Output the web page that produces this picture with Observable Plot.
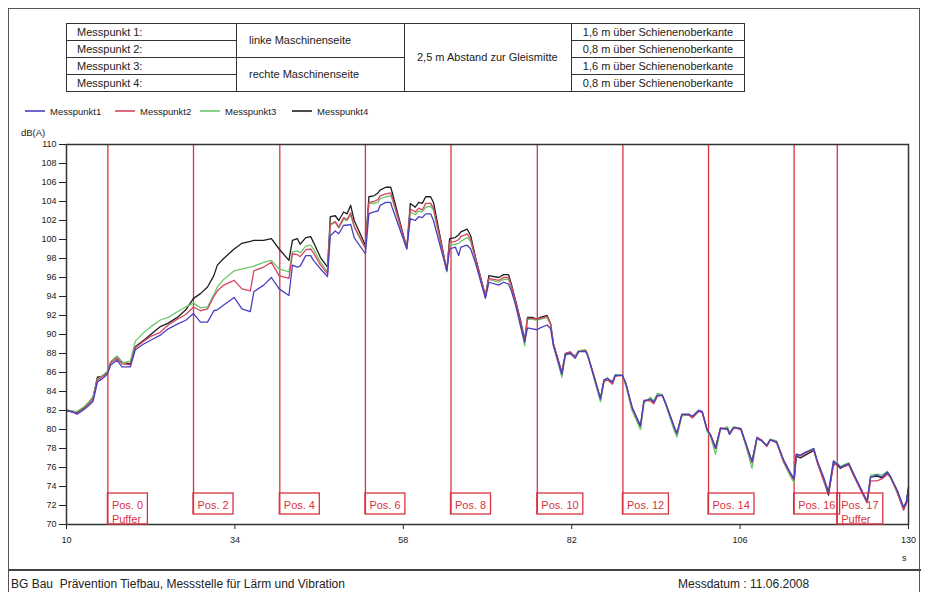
<!DOCTYPE html>
<html><head><meta charset="utf-8">
<script src="https://cdn.jsdelivr.net/npm/d3@7"></script>
<script src="https://cdn.jsdelivr.net/npm/@observablehq/plot@0.6"></script>
<style>
html,body{margin:0;padding:0;background:#fff;}
body{font-family:"Liberation Sans",Arial,sans-serif;color:#222;}
#wrap{position:relative;width:927px;height:592px;overflow:hidden;}
#chart{position:absolute;left:0;top:0;}
.abs{position:absolute;white-space:nowrap;}
table.info{position:absolute;left:66px;top:23px;border-collapse:collapse;font-size:11px;table-layout:fixed;width:678px;color:#222;}
table.info td{border:1.5px solid #333;height:16px;padding:0 0 0 10px;white-space:nowrap;line-height:15px;vertical-align:middle;}
table.info td.m{padding-left:12px;}
table.info td.c{text-align:center;padding:0;}
.leg{position:absolute;top:106px;font-size:9.5px;line-height:12px;}
.leg svg{vertical-align:middle;margin-right:5px;position:relative;top:-1px;}
</style>
</head><body>
<div id="wrap">
  <div id="chart"></div>
  <div class="abs" style="left:8px;top:8px;width:912px;height:600px;border:1.5px solid #555;box-sizing:border-box;"></div>
  <div class="abs" style="left:8px;top:569px;width:913px;height:0;border-top:2px solid #444;"></div>
  <table class="info">
    <colgroup><col style="width:170px"><col style="width:168px"><col style="width:167px"><col style="width:173px"></colgroup>
    <tr><td>Messpunkt 1:</td><td class="m" rowspan="2">linke Maschinenseite</td><td class="m" rowspan="4">2,5 m Abstand zur Gleismitte</td><td class="c">1,6 m über Schienenoberkante</td></tr>
    <tr><td>Messpunkt 2:</td><td class="c">0,8 m über Schienenoberkante</td></tr>
    <tr><td>Messpunkt 3:</td><td class="m" rowspan="2">rechte Maschinenseite</td><td class="c">1,6 m über Schienenoberkante</td></tr>
    <tr><td>Messpunkt 4:</td><td class="c">0,8 m über Schienenoberkante</td></tr>
  </table>
  <div id="legend"></div>
  <div class="abs" style="left:21px;top:127px;font-size:9.5px;line-height:12px;">dB(A)</div>
  <div class="abs" style="left:902px;top:552px;font-size:9px;line-height:12px;">s</div>
  <div class="abs" style="left:11px;top:577px;font-size:12px;line-height:14px;">BG Bau&nbsp; Prävention Tiefbau, Messstelle für Lärm und Vibration</div>
  <div class="abs" style="left:678px;top:577px;font-size:12px;line-height:14px;">Messdatum : 11.06.2008</div>
</div>
<script>
// ---- data ----
const time = [10, 11, 11.5, 12.5, 13.3, 13.8, 14.4, 15.0, 15.8, 16.3, 17.2, 17.9, 19.1, 19.8, 21.0, 22.0, 23.3, 24.5, 25.8, 27.0, 28.1, 29.1, 30.1, 31.0, 31.5, 32.4, 33.9, 35.0, 36.2, 36.7, 38.1, 39.2, 40.3, 41.7, 42.2,
  42.9, 43.3, 44.1, 44.8, 45.2, 46.2, 47.2, 47.6, 48.3, 48.8, 49.5, 50.0, 50.5, 51.0, 52.6, 53.1, 53.8, 54.4, 54.7, 55.5, 56.2, 56.4, 58.5, 59.0, 59.7, 60.2, 60.7, 61.2, 61.9, 62.3, 64.2, 64.6, 65.4, 65.9, 66.2, 67.1, 67.6, 68.3, 69.7, 70.2, 71.6, 72.3, 73.0, 73.4, 74.0, 74.7, 75.3, 75.7, 76.4, 77.1, 77.5, 78.5, 79.0, 79.4,
  80.6, 81.1, 81.8, 82.5, 83.0, 84.0, 84.3, 85.2, 86.1, 86.6, 87.1, 87.8, 88.2, 89.2, 89.7, 90.6, 91.8, 92.3, 93.2, 93.7, 94.2, 94.9, 95.4, 96.6, 97.0, 97.7, 98.7, 99.2, 100.1, 100.6, 101.3, 101.8, 102.5, 103.2, 104.2, 104.5, 105.1, 106.1, 106.8, 107.7, 108.4, 109.1, 109.8, 110.3, 111.2, 112.2, 113.2, 113.7, 114.0, 114.6, 115.3, 116.5, 117.0, 117.9, 118.6, 119.3, 119.8, 120.3, 120.8, 121.5, 122.2, 123.6, 124.1, 124.6, 125.5, 126.2, 127.0, 127.4, 128.4, 129.3, 129.7, 130.0];

const messpunkt1 = [82.0, 81.8, 81.6, 82.1, 82.6, 83.0, 85.0, 85.3, 85.8, 86.8, 87.3, 86.6, 86.6, 88.4, 89.0, 89.4, 89.9, 90.6, 91.1, 91.5, 92.2, 91.3, 91.3, 92.5, 92.6, 93.1, 93.9, 92.7, 92.4, 94.5, 95.2, 96.0, 94.8, 94.1, 97.3,
  97.1, 97.2, 98.3, 98.3, 97.8, 96.9, 96.1, 100.4, 100.9, 100.6, 101.5, 101.5, 101.6, 100.2, 98.5, 102.7, 102.9, 103.0, 103.6, 103.9, 103.9, 103.4, 99.0, 102.2, 102.0, 102.4, 102.3, 102.7, 102.7, 102.0, 96.7, 99.0, 99.2, 98.3, 99.2, 99.4, 99.0, 97.5, 93.8, 95.5, 95.2, 95.5, 95.3, 94.6, 93.1, 90.9, 89.2, 90.7, 90.6, 90.5, 90.7, 91.0, 90.6, 88.8,
  85.8, 87.9, 88.0, 87.5, 88.2, 88.2, 87.7, 85.5, 83.2, 85.2, 85.4, 85.0, 85.7, 85.7, 84.9, 82.3, 80.4, 83.0, 83.2, 82.9, 83.6, 83.6, 82.7, 80.3, 79.6, 81.6, 81.6, 81.4, 82.0, 81.9, 80.0, 79.4, 78.0, 80.1, 80.1, 79.5, 80.2, 80.1, 78.6, 76.6, 79.1, 78.8, 78.3, 78.9, 78.7, 76.8, 75.4, 74.8, 77.4, 77.3, 77.6, 78.0, 76.7, 75.0, 73.4, 76.7, 76.4, 76.0, 76.2, 76.4, 75.3, 73.2, 72.5, 75.0, 75.2, 75.0, 75.5, 75.1, 73.6, 71.8, 72.4, 73.9];

const messpunkt2 = [82.0, 81.8, 81.7, 82.2, 82.8, 83.2, 85.2, 85.5, 85.9, 87.0, 87.5, 86.9, 86.8, 88.6, 89.3, 89.8, 90.2, 91.0, 91.6, 92.1, 92.9, 92.5, 92.7, 94.0, 94.6, 95.2, 95.7, 94.8, 94.6, 96.7, 97.1, 97.6, 96.2, 95.9, 98.5,
  98.4, 98.2, 98.9, 99.0, 98.6, 97.3, 96.4, 101.6, 101.9, 101.3, 102.3, 102.1, 102.8, 101.4, 99.1, 103.9, 104.0, 104.2, 104.6, 104.8, 104.9, 104.5, 99.1, 103.2, 102.9, 103.3, 103.1, 103.8, 103.8, 103.3, 96.8, 99.7, 99.8, 100.0, 100.3, 100.6, 100.0, 98.0, 94.0, 95.9, 95.7, 96.0, 96.0, 95.1, 93.5, 91.3, 89.3, 91.7, 91.7, 91.6, 91.7, 91.9, 91.1, 89.0,
  85.9, 88.0, 88.2, 87.6, 88.2, 88.3, 87.8, 85.6, 83.3, 85.1, 85.2, 84.8, 85.6, 85.7, 84.9, 82.4, 80.4, 83.1, 83.0, 82.7, 83.5, 83.6, 82.8, 80.3, 79.6, 81.6, 81.5, 81.2, 81.9, 81.8, 80.0, 79.4, 78.0, 80.2, 80.0, 79.6, 80.2, 80.0, 78.5, 76.5, 79.2, 78.9, 78.2, 78.9, 78.6, 76.6, 75.3, 74.7, 77.3, 77.2, 77.5, 77.9, 76.5, 74.6, 73.3, 76.2, 76.4, 76.0, 76.1, 76.3, 75.1, 73.0, 72.3, 74.6, 74.6, 74.8, 75.3, 75.0, 73.4, 71.5, 72.2, 72.8];

const messpunkt3 = [82.1, 81.9, 81.9, 82.4, 83.0, 83.5, 85.3, 85.6, 86.1, 87.1, 87.7, 87.0, 87.2, 89.3, 90.2, 90.8, 91.5, 91.8, 92.4, 92.9, 93.3, 92.8, 92.9, 94.2, 95.0, 95.8, 96.7, 96.9, 97.1, 97.2, 97.6, 97.8, 96.9, 96.6, 98.7,
  98.8, 98.6, 99.3, 99.4, 99.0, 97.6, 96.6, 101.5, 101.8, 101.2, 102.1, 102.0, 102.6, 101.3, 99.0, 103.8, 103.8, 103.9, 104.3, 104.5, 104.6, 104.3, 99.0, 102.9, 102.6, 103.0, 102.9, 103.4, 103.5, 103.1, 96.6, 99.4, 99.5, 99.6, 99.8, 100.2, 99.8, 97.8, 93.9, 95.8, 95.5, 95.8, 95.8, 95.0, 93.3, 91.0, 88.8, 91.6, 91.6, 91.5, 91.6, 91.8, 91.0, 88.8,
  85.5, 87.8, 88.0, 87.8, 88.3, 88.4, 87.9, 85.3, 82.9, 85.0, 85.4, 85.0, 85.8, 85.7, 84.6, 82.0, 80.0, 82.8, 83.4, 83.0, 83.8, 83.7, 82.6, 79.9, 79.2, 81.4, 81.6, 81.4, 82.0, 81.9, 79.8, 79.2, 77.4, 80.0, 80.3, 79.7, 80.3, 80.1, 78.3, 75.9, 79.0, 78.8, 78.4, 79.0, 78.8, 76.5, 75.0, 74.4, 77.4, 77.3, 77.6, 78.0, 76.6, 74.6, 73.6, 76.6, 76.5, 76.1, 76.3, 76.5, 75.3, 73.0, 72.3, 75.2, 75.3, 75.2, 75.6, 75.1, 73.3, 71.6, 72.2, 73.0];

const messpunkt4 = [82.0, 81.9, 81.8, 82.3, 82.9, 83.4, 85.5, 85.6, 86.0, 87.1, 87.7, 87.1, 86.9, 88.7, 89.4, 90.0, 90.8, 91.2, 91.8, 92.6, 93.8, 94.3, 95.0, 96.2, 97.3, 98.0, 99.0, 99.6, 99.8, 99.9, 99.9, 100.1, 99.0, 97.8, 99.9,
  100.1, 99.5, 100.2, 100.3, 99.7, 98.1, 97.1, 102.4, 102.5, 102.0, 102.9, 102.7, 103.6, 102.0, 99.4, 104.5, 104.6, 104.9, 105.2, 105.5, 105.5, 105.0, 99.1, 103.8, 103.4, 103.9, 103.8, 104.5, 104.5, 103.9, 96.7, 100.1, 100.2, 100.5, 100.8, 101.1, 100.4, 98.1, 94.1, 96.2, 96.0, 96.3, 96.3, 95.3, 93.6, 91.5, 89.4, 91.8, 91.8, 91.6, 91.8, 92.0, 91.1, 89.0,
  86.0, 88.0, 88.1, 87.7, 88.3, 88.3, 87.8, 85.5, 83.2, 85.2, 85.4, 84.8, 85.7, 85.7, 84.8, 82.3, 80.2, 83.0, 83.2, 82.8, 83.6, 83.6, 82.7, 80.2, 79.5, 81.6, 81.6, 81.3, 82.0, 81.8, 79.9, 79.4, 78.1, 80.1, 80.1, 79.5, 80.2, 80.1, 78.5, 76.6, 79.1, 78.8, 78.3, 78.9, 78.7, 76.7, 75.3, 74.6, 77.2, 77.0, 77.3, 77.8, 76.6, 74.7, 73.1, 76.4, 76.3, 75.9, 76.1, 76.3, 75.2, 73.1, 72.4, 75.0, 75.1, 74.9, 75.4, 75.0, 73.5, 71.8, 72.4, 73.9];

const seriesNames = ["Messpunkt1", "Messpunkt2", "Messpunkt3", "Messpunkt4"];
const seriesColors = ["#4a3fc2", "#d6455f", "#6cc76c", "#1e1e1e"];

const posTimes = [15.9, 28.1, 40.4, 52.6, 64.8, 77.1, 89.3, 101.5, 113.7, 119.85];
const posNames = ["Pos. 0", "Pos. 2", "Pos. 4", "Pos. 6", "Pos. 8", "Pos. 10", "Pos. 12", "Pos. 14", "Pos. 16", "Pos. 17"];
const posNotes = ["Puffer", "", "", "", "", "", "", "", "", "Puffer"];

const xTicks = [10, 34, 58, 82, 106, 130];
const yTicks = d3.range(70, 111, 2);

// ---- build ----
const allSeries = [messpunkt1, messpunkt2, messpunkt3, messpunkt4];
const rows = [];
allSeries.forEach((vals, s) => {
  const n = Math.min(vals.length, time.length);
  for (let i = 0; i < n; i++) rows.push({t: time[i], v: vals[i], s: seriesNames[s]});
});
const pos = posTimes.map((t, i) => ({t, name: posNames[i], note: posNotes[i]}));
const red = "#d93340";

const lineMarks = [3, 2, 1, 0].map(s =>
  Plot.line(rows.filter(d => d.s === seriesNames[s]), {x: "t", y: "v", stroke: seriesColors[s], strokeWidth: 1.3})
);

const chart = Plot.plot({
  width: 927, height: 592,
  marginTop: 144, marginBottom: 68, marginLeft: 66, marginRight: 19,
  style: {fontFamily: "Liberation Sans, Arial, sans-serif", fontSize: "9px", color: "#222", background: "transparent", overflow: "visible"},
  x: {domain: [10, 130], ticks: xTicks, tickSize: 5, tickPadding: 7, label: null},
  y: {domain: [70, 110], ticks: yTicks, tickSize: 7, tickPadding: 3, label: null},
  marks: [
    Plot.ruleX(pos.filter(d => !d.note), {x: "t", stroke: red, strokeWidth: 1.3, insetBottom: 10}),
    Plot.ruleX(pos.filter(d => d.note), {x: "t", stroke: red, strokeWidth: 1.3}),
    ...lineMarks,
    Plot.text(pos, {x: "t", y: 70, text: d => d.note ? d.name + "\n" + d.note : d.name, textAnchor: "start", lineAnchor: "top", dx: 4, dy: -25, fill: red, fontSize: 11, lineHeight: 1.27}),
    Plot.frame({stroke: "#333", strokeWidth: 1.5})
  ]
});
document.getElementById("chart").appendChild(chart);

// boxes around position labels, placed through the plot's own scales
const xs = chart.scale("x"), ys = chart.scale("y");
const ctx = document.createElement("canvas").getContext("2d");
ctx.font = "11px 'Liberation Sans', Arial, sans-serif";
const g = d3.select(chart).append("g").attr("fill", "none").attr("stroke", red).attr("stroke-width", 1.3);
pos.forEach(d => {
  const x0 = xs.apply(d.t), yb = ys.apply(70);
  const w = Math.round(ctx.measureText(d.name).width) + 9;
  g.append("rect").attr("x", x0).attr("y", yb - 31).attr("width", w).attr("height", d.note ? 31 : 21);
});

// legend
const legendX = [25, 115, 200, 292];
const leg = document.getElementById("legend");
seriesNames.forEach((name, i) => {
  const el = document.createElement("div");
  el.className = "leg";
  el.style.left = legendX[i] + "px";
  el.innerHTML = `<svg width="20" height="4"><line x1="0" x2="20" y1="2" y2="2" stroke="${seriesColors[i]}" stroke-width="1.6"/></svg>${name}`;
  leg.appendChild(el);
});
</script>
</body></html>
